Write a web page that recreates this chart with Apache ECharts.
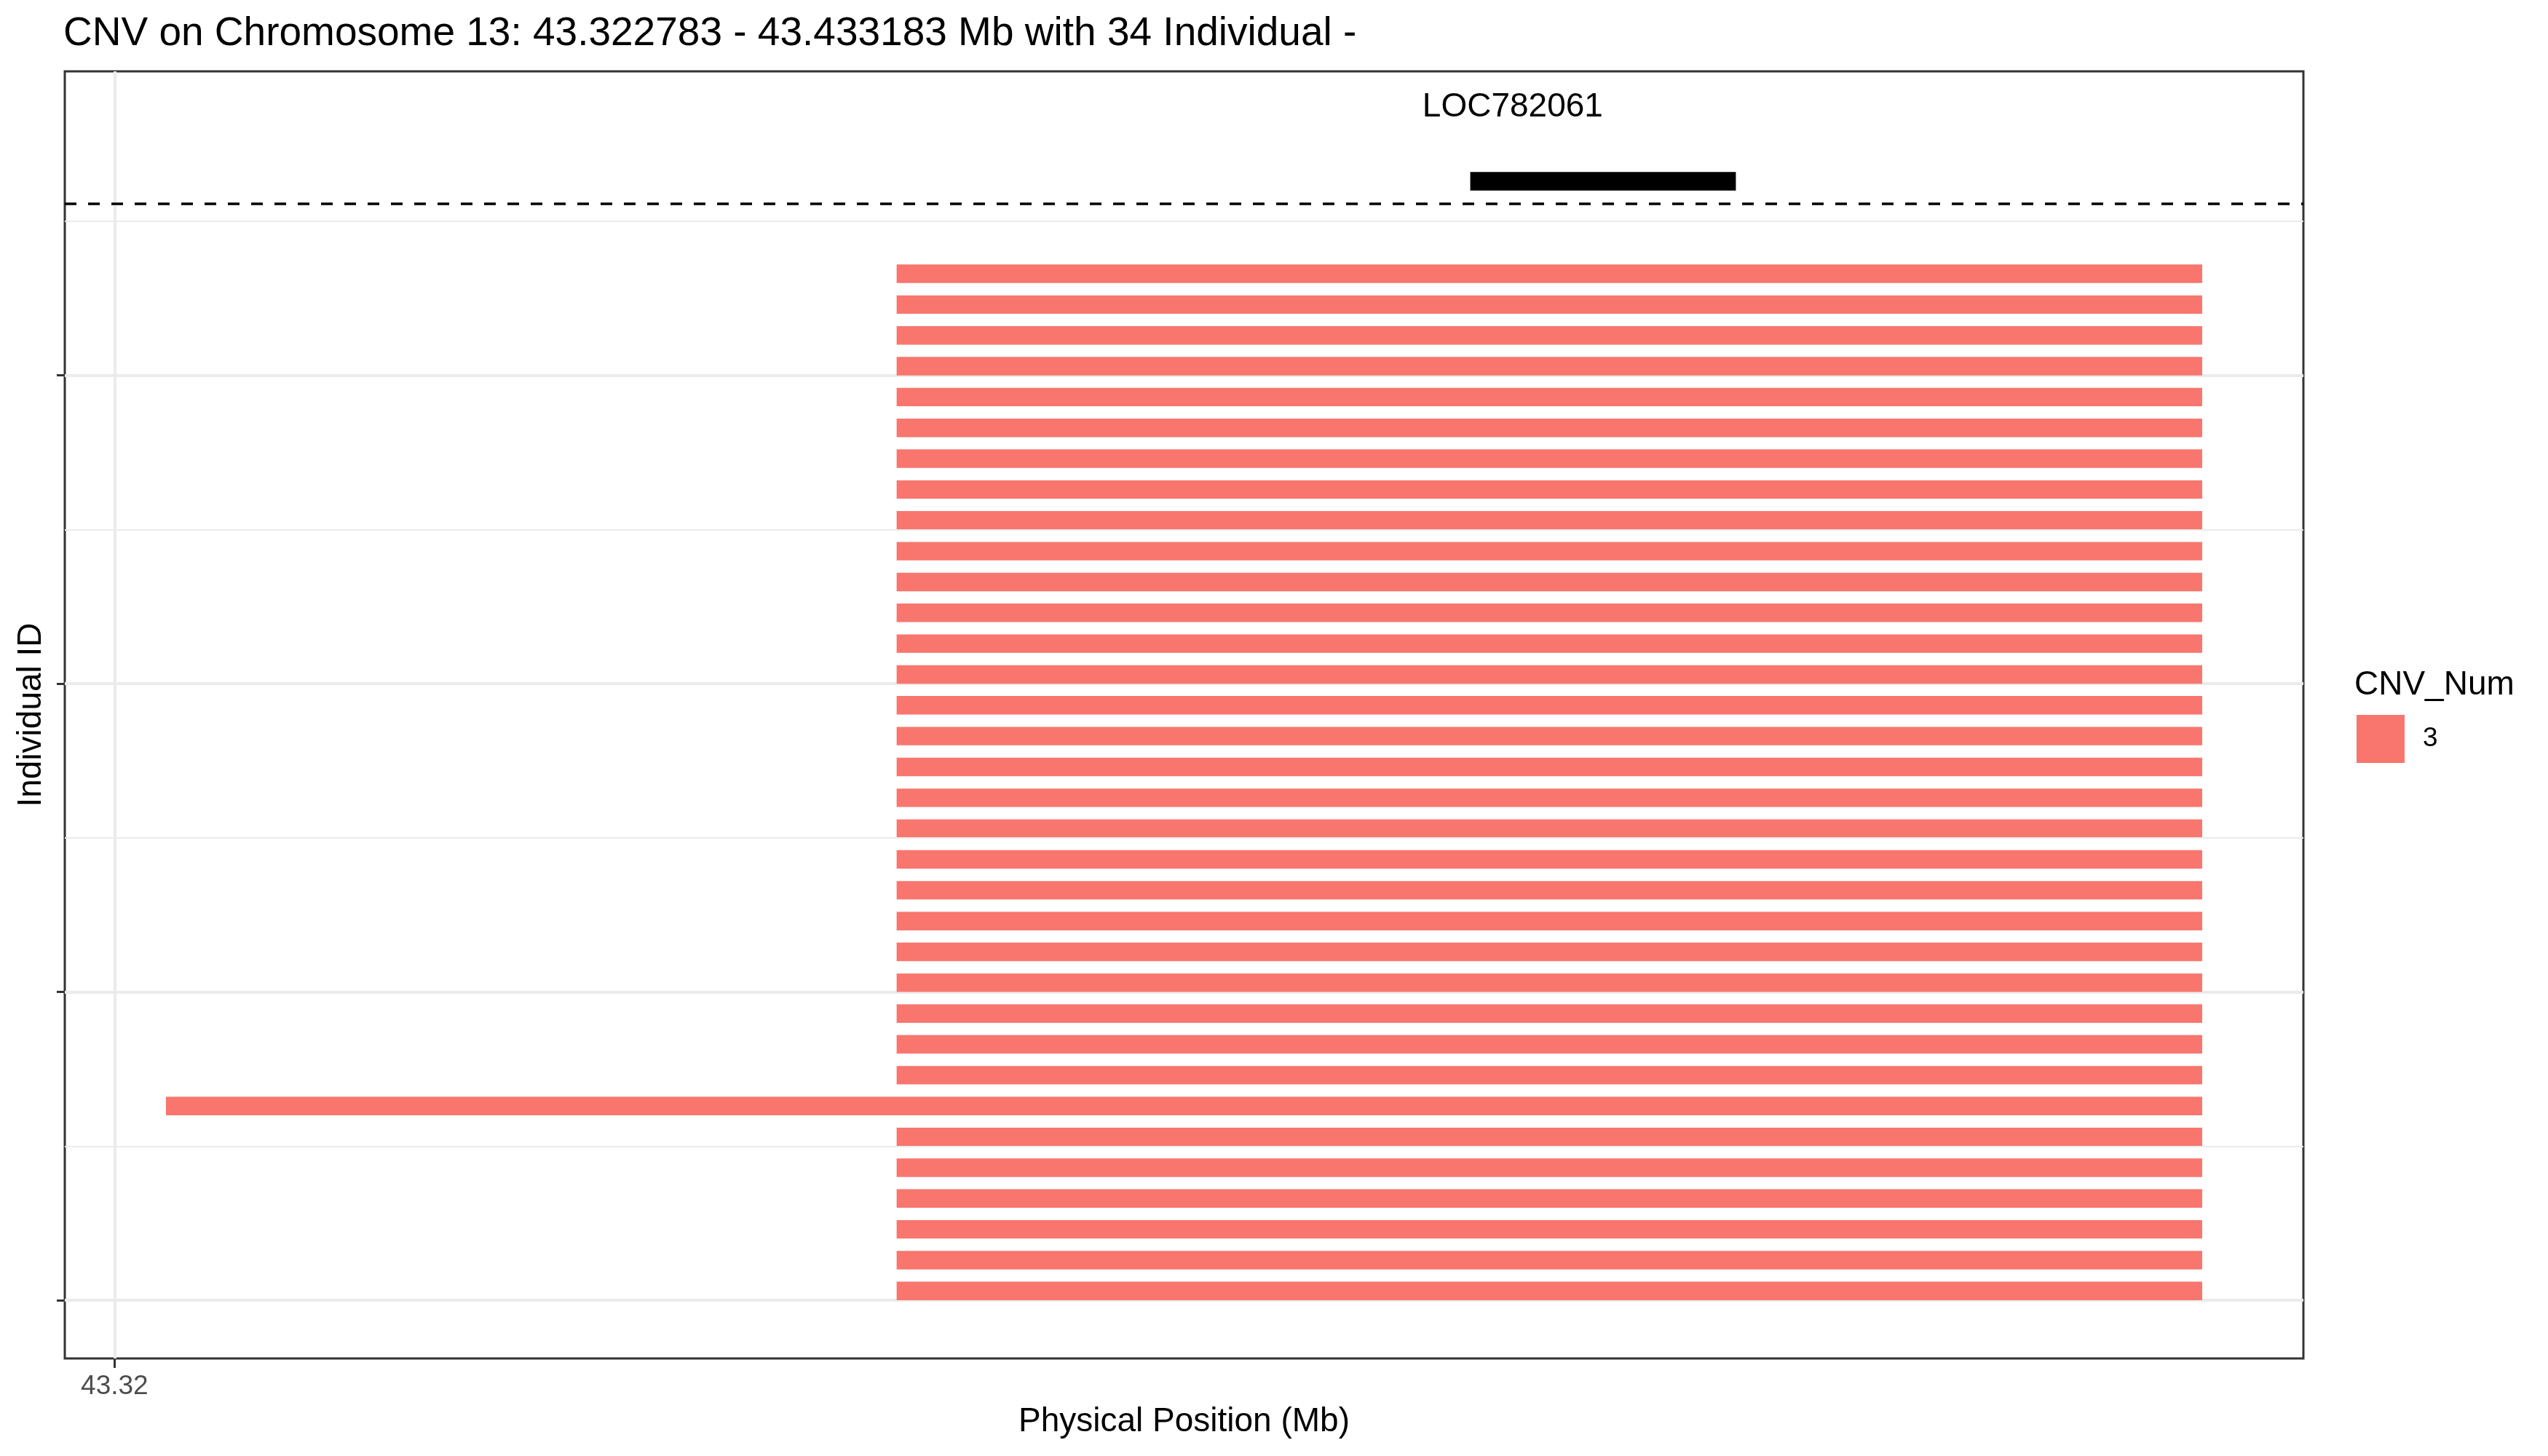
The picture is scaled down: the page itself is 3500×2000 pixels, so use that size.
<!DOCTYPE html>
<html lang="en">
<head>
    <meta charset="UTF-8">
    <title>CNV on Chromosome 13</title>
    <script src="https://cdn.jsdelivr.net/npm/echarts@6/dist/echarts.min.js"></script>
    <style>
        html, body { margin: 0; padding: 0; background: #fff; }
        #main { width: 3500px; height: 2000px; }
    </style>
</head>
<body>
<div id="main"></div>
<script>
    // CNV segments, one per individual (row 0 = bottom row)
    var rowIds   = [0, 1, 2, 3, 4, 5, 6, 7, 8, 9, 10, 11, 12, 13, 14, 15, 16,
                    17, 18, 19, 20, 21, 22, 23, 24, 25, 26, 27, 28, 29, 30, 31, 32, 33];
    var cnvStart = [43.3624, 43.3624, 43.3624, 43.3624, 43.3624, 43.3624, 43.322783, 43.3624,
                    43.3624, 43.3624, 43.3624, 43.3624, 43.3624, 43.3624, 43.3624, 43.3624,
                    43.3624, 43.3624, 43.3624, 43.3624, 43.3624, 43.3624, 43.3624, 43.3624,
                    43.3624, 43.3624, 43.3624, 43.3624, 43.3624, 43.3624, 43.3624, 43.3624,
                    43.3624, 43.3624];
    var cnvEnd   = [43.433183, 43.433183, 43.433183, 43.433183, 43.433183, 43.433183, 43.433183,
                    43.433183, 43.433183, 43.433183, 43.433183, 43.433183, 43.433183, 43.433183,
                    43.433183, 43.433183, 43.433183, 43.433183, 43.433183, 43.433183, 43.433183,
                    43.433183, 43.433183, 43.433183, 43.433183, 43.433183, 43.433183, 43.433183,
                    43.433183, 43.433183, 43.433183, 43.433183, 43.433183, 43.433183];
    var cnvNum   = ['3'];

    // gene track
    var geneNames = ['LOC782061'];
    var geneStart = [43.3935];
    var geneEnd   = [43.4079];
    var geneRow   = [36];
    var geneLabelX = [43.3958];
    var geneLabelY = [38.7];
    var separatorY = 35.58;

    // axis ticks
    var xTicks = [43.32];
    var yTicks = [0, 10, 20, 30];
    var yMinorLines = [5, 15, 25, 35];

    var barHeight = 0.6;
    var font = "'Liberation Sans', Arial, sans-serif";

    var cnvData = rowIds.map(function (r, i) {
        return [cnvStart[i], cnvEnd[i], r];
    });
    var geneData = geneNames.map(function (g, i) {
        return [geneStart[i], geneEnd[i], geneRow[i], geneLabelX[i], geneLabelY[i], g];
    });

    var chart = echarts.init(document.getElementById('main'));

    chart.setOption({
        animation: false,
        textStyle: { fontFamily: font },
        title: [{
            text: 'CNV on Chromosome 13: 43.322783 - 43.433183 Mb with 34 Individual -',
            left: 87, top: 19, padding: 0,
            textStyle: { fontSize: 55, fontWeight: 'normal', color: '#000', fontFamily: font }
        }, {
            text: 'CNV_Num',
            left: 3234, top: 918, padding: 0,
            textStyle: { fontSize: 46, fontWeight: 'normal', color: '#000', fontFamily: font }
        }],
        legend: {
            data: cnvNum,
            left: 3237, top: 982, padding: 0,
            icon: 'rect', itemWidth: 66, itemHeight: 66,
            textStyle: { fontSize: 37, color: '#000', fontFamily: font, padding: [6, 0, 0, 20] },
            selectedMode: false
        },
        grid: {
            left: 89, right: 336, top: 98, bottom: 134,
            show: true, borderColor: '#333333', borderWidth: 3, backgroundColor: '#fff'
        },
        xAxis: {
            type: 'value',
            min: 43.3173, max: 43.43867,
            name: 'Physical Position (Mb)',
            nameLocation: 'middle', nameGap: 64,
            nameTextStyle: { fontSize: 46, color: '#000', fontFamily: font },
            axisLine: { show: false, onZero: false },
            axisTick: { show: true, length: 13, customValues: xTicks, lineStyle: { color: '#333333', width: 3 } },
            axisLabel: {
                customValues: xTicks, fontSize: 37, color: '#4D4D4D', margin: 20,
                formatter: function (v) { return v.toFixed(2); }
            },
            splitLine: { show: true, lineStyle: { color: '#EBEBEB', width: 4 } }
        },
        yAxis: {
            type: 'value',
            min: -1.889, max: 39.866,
            name: 'Individual ID',
            nameLocation: 'middle', nameGap: 23, nameRotate: 90,
            nameTextStyle: { fontSize: 46, color: '#000', fontFamily: font },
            axisLine: { show: false, onZero: false },
            axisTick: { show: true, length: 11, customValues: yTicks, lineStyle: { color: '#333333', width: 3 } },
            axisLabel: { customValues: yTicks, formatter: function () { return ''; } },
            splitLine: { show: true, lineStyle: { color: '#EBEBEB', width: 4 } }
        },
        series: [{
            // minor grid lines
            type: 'line',
            data: [],
            silent: true,
            z: 1,
            markLine: {
                silent: true, symbol: 'none', animation: false,
                label: { show: false },
                lineStyle: { type: 'solid', color: '#EBEBEB', width: 2 },
                emphasis: { disabled: true },
                data: yMinorLines.map(function (v) { return { yAxis: v }; })
            }
        }, {
            name: cnvNum[0],
            type: 'custom',
            z: 2,
            itemStyle: { color: '#F8766D' },
            encode: { x: [0, 1], y: 2 },
            data: cnvData,
            renderItem: function (params, api) {
                var p0 = api.coord([api.value(0), api.value(2) + barHeight]);
                var p1 = api.coord([api.value(1), api.value(2)]);
                return {
                    type: 'rect',
                    shape: { x: p0[0], y: p0[1], width: p1[0] - p0[0], height: p1[1] - p0[1] },
                    style: { fill: api.visual('color') }
                };
            }
        }, {
            name: 'gene',
            type: 'custom',
            z: 3,
            silent: true,
            encode: { x: [0, 1], y: 2 },
            data: geneData,
            renderItem: function (params, api) {
                var p0 = api.coord([api.value(0), api.value(2) + barHeight]);
                var p1 = api.coord([api.value(1), api.value(2)]);
                var t = api.coord([api.value(3), api.value(4)]);
                return {
                    type: 'group',
                    children: [{
                        type: 'rect',
                        shape: { x: p0[0], y: p0[1], width: p1[0] - p0[0], height: p1[1] - p0[1] },
                        style: { fill: '#000' }
                    }, {
                        type: 'text',
                        x: t[0], y: t[1],
                        style: {
                            text: geneNames[params.dataIndex],
                            fontSize: 46, fontFamily: font, fill: '#000',
                            align: 'center', verticalAlign: 'middle'
                        }
                    }]
                };
            },
            markLine: {
                silent: true, symbol: 'none', animation: false,
                label: { show: false },
                lineStyle: { type: [16, 16], color: '#000', width: 3.5 },
                emphasis: { disabled: true },
                data: [{ yAxis: separatorY }]
            }
        }]
    });
</script>
</body>
</html>
